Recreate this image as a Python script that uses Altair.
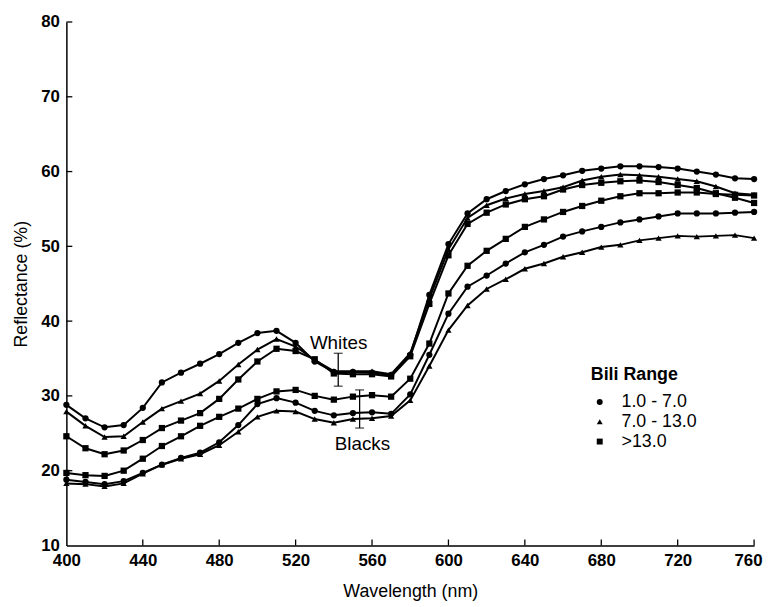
import altair as alt
import pandas as pd

wavelengths = list(range(400, 761, 10))

whites_1_7 = [28.8, 27.0, 25.8, 26.1, 28.4, 31.8, 33.1, 34.3, 35.6, 37.1, 38.4, 38.7, 37.1,
              34.6, 33.2, 33.2, 33.1, 32.8, 35.5, 43.5, 50.3, 54.4, 56.3, 57.4, 58.3, 59.0,
              59.5, 60.1, 60.4, 60.7, 60.7, 60.6, 60.4, 60.0, 59.6, 59.1, 59.0]
whites_7_13 = [27.9, 26.0, 24.5, 24.6, 26.5, 28.3, 29.3, 30.3, 32.0, 34.2, 36.2, 37.6, 36.6,
               34.8, 33.3, 33.3, 33.3, 32.9, 35.7, 43.0, 49.6, 53.8, 55.5, 56.4, 57.0, 57.4,
               57.9, 58.8, 59.3, 59.6, 59.5, 59.3, 59.0, 58.7, 58.0, 57.1, 56.9]
whites_13 = [24.6, 23.0, 22.2, 22.7, 24.1, 25.7, 26.7, 27.7, 29.6, 32.2, 34.6, 36.3, 36.0,
             34.9, 33.0, 32.9, 32.9, 32.6, 35.3, 42.3, 48.8, 53.0, 54.5, 55.6, 56.3, 56.7,
             57.6, 58.2, 58.5, 58.7, 58.8, 58.6, 58.2, 57.8, 57.1, 56.5, 55.8]
blacks_1_7 = [18.8, 18.5, 18.2, 18.6, 19.7, 20.8, 21.7, 22.4, 23.8, 26.1, 28.9, 29.7, 29.1,
              28.0, 27.4, 27.7, 27.8, 27.6, 30.2, 35.5, 41.0, 44.6, 46.1, 47.7, 49.2, 50.2,
              51.3, 52.0, 52.6, 53.2, 53.6, 54.0, 54.4, 54.4, 54.4, 54.5, 54.6]
blacks_7_13 = [18.3, 18.2, 17.9, 18.3, 19.6, 20.8, 21.6, 22.2, 23.4, 25.2, 27.2, 28.0, 27.9,
               26.9, 26.4, 26.9, 27.0, 27.3, 29.4, 34.0, 38.8, 42.1, 44.3, 45.6, 47.0, 47.7,
               48.6, 49.2, 49.9, 50.2, 50.8, 51.1, 51.4, 51.3, 51.4, 51.5, 51.1]
blacks_13 = [19.7, 19.4, 19.3, 20.0, 21.6, 23.3, 24.6, 26.0, 27.2, 28.3, 29.6, 30.6, 30.8,
             30.0, 29.5, 29.9, 30.1, 29.9, 32.3, 37.0, 43.7, 47.4, 49.4, 51.0, 52.6, 53.6,
             54.6, 55.4, 56.1, 56.7, 57.1, 57.1, 57.2, 57.2, 57.0, 56.9, 56.8]

ranges = ["1.0 - 7.0", "7.0 - 13.0", ">13.0"]
shapes = ["circle", "triangle-up", "square"]

series = [
    ("Whites", ranges[0], whites_1_7),
    ("Whites", ranges[1], whites_7_13),
    ("Whites", ranges[2], whites_13),
    ("Blacks", ranges[0], blacks_1_7),
    ("Blacks", ranges[1], blacks_7_13),
    ("Blacks", ranges[2], blacks_13),
]

rows = []
for group, rng, vals in series:
    for w, v in zip(wavelengths, vals):
        rows.append({"wavelength": w, "reflectance": v, "series": group + " " + rng, "range": rng})
df = pd.DataFrame(rows)

# error bars (wavelength, low, high)
err_wl = [542.3, 553.5]
err_lo = [31.3, 25.7]
err_hi = [35.7, 30.8]
err_df = pd.DataFrame({"wavelength": err_wl, "reflectance": err_lo, "hi": err_hi})
cap_df = pd.DataFrame({"wavelength": err_wl + err_wl, "reflectance": err_lo + err_hi})

# group labels
lab_text = ["Whites", "Blacks"]
lab_wl = [542.5, 555.0]
lab_y = [37.1, 23.6]
lab_df = pd.DataFrame({"wavelength": lab_wl, "reflectance": lab_y, "label": lab_text})

x_tick_values = [400, 440, 480, 520, 560, 600, 640, 680, 720, 760]
y_tick_values = [10, 20, 30, 40, 50, 60, 70, 80]

W, H = 695, 529
FONT = "Liberation Sans"

xscale = alt.Scale(domain=[400, 760], nice=False, zero=False)
yscale = alt.Scale(domain=[10, 80], nice=False, zero=False)

xaxis = alt.Axis(
    values=x_tick_values, title="Wavelength (nm)", labelPadding=7, titlePadding=15,
    labelFlush=False,
    labelAlign={"condition": {"test": "datum.value == 760", "value": "right"}, "value": "center"},
    labelOffset={"condition": {"test": "datum.value == 760", "value": 8}, "value": 0},
)
yaxis = alt.Axis(values=y_tick_values, title="Reflectance (%)", labelPadding=7,
                 titlePadding=10)

X = alt.X("wavelength:Q", scale=xscale, axis=xaxis)
Y = alt.Y("reflectance:Q", scale=yscale, axis=yaxis)

lines = alt.Chart(df).mark_line(color="black", strokeWidth=2).encode(
    x=X, y=Y, detail="series:N"
)

points = alt.Chart(df).mark_point(filled=True, color="black", size=40, opacity=1).encode(
    x=X, y=Y,
    shape=alt.Shape("range:N", scale=alt.Scale(domain=ranges, range=shapes),
                    legend=alt.Legend(title="Bili Range", orient="none", legendX=530,
                                      legendY=348)),
)

err_rules = alt.Chart(err_df).mark_rule(color="black", strokeWidth=1.3).encode(
    x=X, y=Y, y2="hi:Q"
)
err_caps = alt.Chart(cap_df).mark_tick(color="black", orient="horizontal", size=9,
                                       thickness=1.3).encode(x=X, y=Y)

labels = alt.Chart(lab_df).mark_text(font=FONT, fontSize=19, color="black").encode(
    x=X, y=Y, text="label:N"
)

xt_df = pd.DataFrame({"wavelength": x_tick_values[1:]})
x_ticks = alt.Chart(xt_df).mark_rule(color="black", strokeWidth=1.3).encode(
    x=X, y=alt.value(H), y2=alt.value(H - 6)
)
yt_df = pd.DataFrame({"reflectance": y_tick_values[1:]})
y_ticks = alt.Chart(yt_df).mark_rule(color="black", strokeWidth=1.3).encode(
    y=Y, x=alt.value(0), x2=alt.value(6)
)

chart = alt.layer(lines, points, err_rules, err_caps, labels, x_ticks, y_ticks).properties(
    width=W, height=H,
    autosize=alt.AutoSizeParams(type="none"),
    padding={"left": 59, "top": 11, "right": 9, "bottom": 55},
).configure_view(stroke=None).configure_axis(
    grid=False, tickSize=0, domainColor="black", domainWidth=1.5,
    labelFont=FONT, labelFontSize=17, labelColor="black", labelFontWeight="bold",
    titleFont=FONT, titleFontSize=18, titleColor="black", titleFontWeight="normal",
).configure_legend(
    titleFont=FONT, titleFontSize=18, titleColor="black", titleFontWeight="bold",
    labelFont=FONT, labelFontSize=18, labelColor="black",
    symbolSize=36, symbolFillColor="black", symbolStrokeColor="black",
    rowPadding=2, labelOffset=13, titlePadding=9,
)

chart.save("out.html", embed_options={"renderer": "svg", "actions": False})
